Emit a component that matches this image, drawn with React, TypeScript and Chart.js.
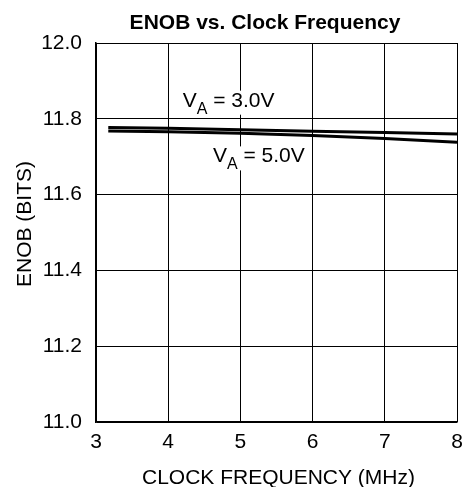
import React, { useEffect, useRef } from "react";
import { Chart, registerables } from "chart.js";

Chart.register(...registerables);

const freqMHz = [3.17, 4, 5, 6, 7, 8];
const enobVa3 = [11.777, 11.775, 11.771, 11.767, 11.764, 11.76];
const enobVa5 = [11.768, 11.766, 11.762, 11.756, 11.748, 11.738];
const xTicks = [3, 4, 5, 6, 7, 8];
const yTicks = [11.0, 11.2, 11.4, 11.6, 11.8, 12.0];
const chartTitle = "ENOB vs. Clock Frequency";
const xTitle = "CLOCK FREQUENCY (MHz)";
const yTitle = "ENOB (BITS)";
const labelVa3 = { x: 4.2, y: 11.832, sub: "A", rest: " = 3.0V" };
const labelVa5 = { x: 4.62, y: 11.685, sub: "A", rest: " = 5.0V" };

const FONT = "Arial, 'Liberation Sans', Helvetica, sans-serif";

const textPlugin = {
  id: "textPlugin",
  afterDraw(chart: any) {
    const ctx = chart.ctx;
    const xs = chart.scales.x;
    const ys = chart.scales.y;
    ctx.save();
    ctx.fillStyle = "#000";
    // title
    ctx.font = `bold 21px ${FONT}`;
    ctx.textAlign = "center";
    ctx.textBaseline = "alphabetic";
    ctx.fillText(chartTitle, 265, 28.5);
    // x title
    ctx.font = `21px ${FONT}`;
    ctx.fillText(xTitle, 278.5, 483.5);
    // y title
    ctx.save();
    ctx.translate(31, 224);
    ctx.rotate(-Math.PI / 2);
    ctx.fillText(yTitle, 0, 0);
    ctx.restore();
    // series labels
    ctx.textAlign = "left";
    for (const lab of [labelVa3, labelVa5]) {
      const x0 = xs.getPixelForValue(lab.x);
      const py = ys.getPixelForValue(lab.y);
      ctx.font = `21px ${FONT}`;
      const wV = ctx.measureText("V").width;
      const wR = ctx.measureText(lab.rest).width;
      ctx.font = `16px ${FONT}`;
      const wA = ctx.measureText(lab.sub).width;
      ctx.fillStyle = "#fff";
      ctx.fillRect(x0, py - 16, wV + wA + wR, 24);
      ctx.fillStyle = "#000";
      let px = x0;
      ctx.font = `21px ${FONT}`;
      ctx.fillText("V", px, py);
      px += wV;
      ctx.font = `16px ${FONT}`;
      ctx.fillText(lab.sub, px, py + 7);
      px += wA;
      ctx.font = `21px ${FONT}`;
      ctx.fillText(lab.rest, px, py);
    }
    ctx.restore();
  },
};

export default function App() {
  const ref = useRef<HTMLCanvasElement | null>(null);
  useEffect(() => {
    if (!ref.current) return;
    const chart = new Chart(ref.current, {
      type: "line",
      data: {
        datasets: [
          {
            label: "VA = 3.0V",
            data: freqMHz.map((f, i) => ({ x: f, y: enobVa3[i] })),
            borderColor: "#000",
            borderWidth: 3,
            pointRadius: 0,
            tension: 0,
            fill: false,
          },
          {
            label: "VA = 5.0V",
            data: freqMHz.map((f, i) => ({ x: f, y: enobVa5[i] })),
            borderColor: "#000",
            borderWidth: 3,
            pointRadius: 0,
            tension: 0,
            fill: false,
          },
        ],
      },
      options: {
        responsive: false,
        animation: false,
        layout: { padding: { top: 43, right: 9, left: 0, bottom: 0 } },
        plugins: {
          legend: { display: false },
          title: { display: false },
          tooltip: { enabled: false },
        },
        scales: {
          x: {
            type: "linear",
            min: 3,
            max: 8,
            afterFit: (s: any) => {
              s.height = 65;
              s.paddingLeft = 0;
              s.paddingRight = 0;
            },
            afterBuildTicks: (s: any) => {
              s.ticks = xTicks.map((v) => ({ value: v }));
            },
            ticks: {
              color: "#000",
              font: { family: FONT, size: 21 },
              padding: 8,
              maxRotation: 0,
              callback: (v: any) => String(v),
            },
            grid: { color: "#000", lineWidth: 1, drawTicks: false },
            border: { color: "#000", width: 1.5 },
          },
          y: {
            type: "linear",
            min: 11,
            max: 12,
            afterFit: (s: any) => {
              s.width = 96;
              s.paddingTop = 0;
              s.paddingBottom = 0;
            },
            afterBuildTicks: (s: any) => {
              s.ticks = yTicks.map((v) => ({ value: v }));
            },
            ticks: {
              color: "#000",
              font: { family: FONT, size: 21 },
              padding: 14,
              callback: (v: any) => Number(v).toFixed(1),
            },
            grid: { color: "#000", lineWidth: 1, drawTicks: false },
            border: { color: "#000", width: 1.5 },
          },
        },
      },
      plugins: [textPlugin],
    });
    return () => chart.destroy();
  }, []);
  return (
    <div style={{ position: "fixed", left: 0, top: 0, width: 466, height: 487, background: "#fff" }}>
      <canvas ref={ref} width={466} height={487} style={{ width: 466, height: 487 }} />
    </div>
  );
}
